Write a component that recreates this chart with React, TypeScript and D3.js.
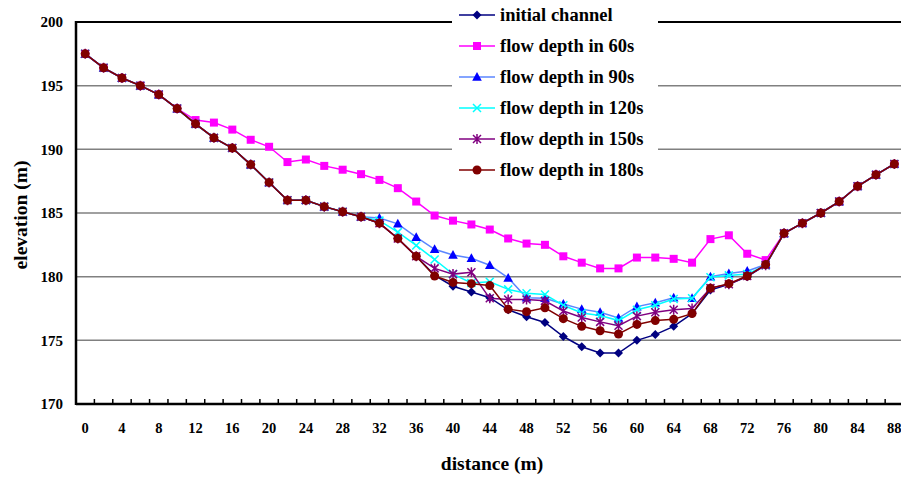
import React from 'react';
import * as d3 from 'd3';

const distances = [0, 2, 4, 6, 8, 10, 12, 14, 16, 18, 20, 22, 24, 26, 28, 30, 32, 34, 36, 38, 40, 42, 44, 46, 48, 50, 52, 54, 56, 58, 60, 62, 64, 66, 68, 70, 72, 74, 76, 78, 80, 82, 84, 86, 88];

const initialChannel = [197.5, 196.4, 195.6, 195.0, 194.3, 193.2, 192.0, 190.9, 190.1, 188.8, 187.4, 186.0, 186.0, 185.5, 185.1, 184.7, 184.2, 183.0, 181.6, 180.1, 179.25, 178.8, 178.35, 177.4, 176.85, 176.4, 175.3, 174.5, 174.0, 174.0, 175.0, 175.45, 176.1, 177.1, 178.95, 179.4, 180.0, 180.9, 183.4, 184.2, 185.0, 185.9, 187.1, 188.0, 188.85];

const depth60 = [197.5, 196.4, 195.6, 195.0, 194.3, 193.2, 192.3, 192.1, 191.55, 190.75, 190.2, 189.0, 189.2, 188.7, 188.4, 188.05, 187.6, 186.95, 185.9, 184.8, 184.4, 184.1, 183.7, 183.0, 182.6, 182.5, 181.6, 181.1, 180.65, 180.65, 181.5, 181.5, 181.4, 181.1, 182.95, 183.25, 181.8, 181.3, 183.4, 184.2, 185.0, 185.9, 187.1, 188.0, 188.85];

const depth90 = [197.5, 196.4, 195.6, 195.0, 194.3, 193.2, 192.0, 190.9, 190.1, 188.8, 187.4, 186.0, 186.0, 185.5, 185.1, 184.7, 184.6, 184.15, 183.1, 182.15, 181.7, 181.45, 180.9, 179.9, 178.35, 178.3, 177.85, 177.45, 177.2, 176.75, 177.65, 177.95, 178.35, 178.3, 180.0, 180.25, 180.45, 180.95, 183.4, 184.2, 185.0, 185.9, 187.1, 188.0, 188.85];

const depth120 = [197.5, 196.4, 195.6, 195.0, 194.3, 193.2, 192.0, 190.9, 190.1, 188.8, 187.4, 186.0, 186.0, 185.5, 185.1, 184.7, 184.4, 183.5, 182.45, 181.35, 180.2, 179.5, 179.6, 179.0, 178.7, 178.6, 177.75, 177.15, 176.95, 176.55, 177.4, 177.75, 178.25, 178.3, 179.95, 180.1, 180.2, 180.9, 183.4, 184.2, 185.0, 185.9, 187.1, 188.0, 188.85];

const depth150 = [197.5, 196.4, 195.6, 195.0, 194.3, 193.2, 192.0, 190.9, 190.1, 188.8, 187.4, 186.0, 186.0, 185.5, 185.1, 184.7, 184.2, 183.0, 181.6, 180.65, 180.2, 180.35, 178.3, 178.2, 178.2, 178.1, 177.3, 176.8, 176.45, 176.15, 176.9, 177.2, 177.4, 177.5, 179.1, 179.4, 180.05, 180.9, 183.4, 184.2, 185.0, 185.9, 187.1, 188.0, 188.85];

const depth180 = [197.5, 196.4, 195.6, 195.0, 194.3, 193.2, 192.0, 190.9, 190.1, 188.8, 187.4, 186.0, 186.0, 185.5, 185.1, 184.7, 184.2, 183.0, 181.6, 180.05, 179.55, 179.45, 179.3, 177.45, 177.25, 177.55, 176.7, 176.1, 175.75, 175.5, 176.25, 176.55, 176.65, 177.1, 179.1, 179.45, 180.05, 180.95, 183.4, 184.2, 185.0, 185.9, 187.1, 188.0, 188.85];

const seriesNames = ['initial channel', 'flow depth in 60s', 'flow depth in 90s', 'flow depth in 120s', 'flow depth in 150s', 'flow depth in 180s'];
const yTicks = [170, 175, 180, 185, 190, 195, 200];
const xTickLabels = [0, 4, 8, 12, 16, 20, 24, 28, 32, 36, 40, 44, 48, 52, 56, 60, 64, 68, 72, 76, 80, 84, 88];

const seriesValues = [initialChannel, depth60, depth90, depth120, depth150, depth180];
const styles = [
  { line: '#000080', marker: '#000080', shape: 'diamond' },
  { line: '#FF00FF', marker: '#FF00FF', shape: 'square' },
  { line: '#5B86FF', marker: '#0000FF', shape: 'triangle' },
  { line: '#00FFFF', marker: '#00FFFF', shape: 'x' },
  { line: '#800080', marker: '#800080', shape: 'star' },
  { line: '#800000', marker: '#800000', shape: 'circle' },
];

function Marker({ shape, color, x, y }: { shape: string; color: string; x: number; y: number }) {
  switch (shape) {
    case 'diamond':
      return <path d={`M${x},${y - 4.5}L${x + 4.5},${y}L${x},${y + 4.5}L${x - 4.5},${y}Z`} fill={color} />;
    case 'square':
      return <rect x={x - 4} y={y - 4} width={8} height={8} fill={color} />;
    case 'triangle':
      return <path d={`M${x},${y - 5}L${x + 4.8},${y + 3.8}L${x - 4.8},${y + 3.8}Z`} fill={color} />;
    case 'x':
      return <path d={`M${x - 4},${y - 4}L${x + 4},${y + 4}M${x - 4},${y + 4}L${x + 4},${y - 4}`} stroke={color} strokeWidth={1.5} fill="none" />;
    case 'star':
      return <path d={`M${x - 4},${y - 4}L${x + 4},${y + 4}M${x - 4},${y + 4}L${x + 4},${y - 4}M${x},${y - 5}L${x},${y + 5}`} stroke={color} strokeWidth={1.5} fill="none" />;
    default:
      return <circle cx={x} cy={y} r={4.5} fill={color} />;
  }
}

export default function App() {
  const W = 901, H = 477;
  const left = 76, top = 22, bottom = 404;
  const band = 18.39;
  const x = d3.scaleBand<number>().domain(distances).range([left, left + band * distances.length]).padding(0);
  const cx = (d: number) => (x(d) as number) + x.bandwidth() / 2;
  const y = d3.scaleLinear().domain([170, 200]).range([bottom, top]);
  const line = d3.line<number>().x((_, i) => cx(distances[i])).y((v) => y(v));
  const font = '"Liberation Serif", "Times New Roman", serif';

  const legendX = 459, legendY0 = 15, legendStep = 31;

  return (
    <svg width={W} height={H} style={{ position: 'absolute', left: 0, top: 0, background: '#fff', fontFamily: font, fontWeight: 'bold' }}>
      <rect x={0} y={0} width={W} height={H} fill="#fff" />
      {yTicks.filter((t) => t !== 170 && t !== 200).map((t) => (
        <line key={t} x1={left} x2={W} y1={y(t)} y2={y(t)} stroke="#808080" strokeWidth={1.5} />
      ))}
      <line x1={left} x2={W} y1={y(200)} y2={y(200)} stroke="#000" strokeWidth={2} />
      {yTicks.map((t) => (
        <text key={t} x={63} y={y(t)} dy="0.35em" textAnchor="end" fontSize={15}>{t}</text>
      ))}
      {distances.map((d) => (
        <line key={d} x1={(x(d) as number) + band} x2={(x(d) as number) + band} y1={bottom} y2={bottom - 5} stroke="#000" strokeWidth={1.5} />
      ))}
      {xTickLabels.map((d) => (
        <text key={d} x={cx(d)} y={428} dy="0.35em" textAnchor="middle" fontSize={14.5}>{d}</text>
      ))}
      {seriesValues.map((vals, si) => (
        <g key={si}>
          <path d={line(vals) as string} fill="none" stroke={styles[si].line} strokeWidth={1.5} />
          {vals.map((v, i) => (
            <Marker key={i} shape={styles[si].shape} color={styles[si].marker} x={cx(distances[i])} y={y(v)} />
          ))}
        </g>
      ))}
      <line x1={left} x2={left} y1={top - 1} y2={bottom + 1} stroke="#000" strokeWidth={2.5} />
      <line x1={left} x2={W} y1={bottom} y2={bottom} stroke="#000" strokeWidth={2.5} />
      <rect x={452} y={0} width={206} height={186} fill="#fff" />
      {seriesNames.map((name, i) => {
        const ly = legendY0 + i * legendStep;
        return (
          <g key={name}>
            <line x1={legendX} x2={legendX + 36} y1={ly} y2={ly} stroke={styles[i].line} strokeWidth={1.5} />
            <Marker shape={styles[i].shape} color={styles[i].marker} x={legendX + 18} y={ly} />
            <text x={500} y={ly} dy="0.35em" fontSize={18.5}>{name}</text>
          </g>
        );
      })}
      <text transform={`translate(20,215) rotate(-90)`} textAnchor="middle" dy="0.35em" fontSize={19.5}>elevation (m)</text>
      <text x={492} y={463} textAnchor="middle" dy="0.35em" fontSize={19.5}>distance (m)</text>
    </svg>
  );
}
